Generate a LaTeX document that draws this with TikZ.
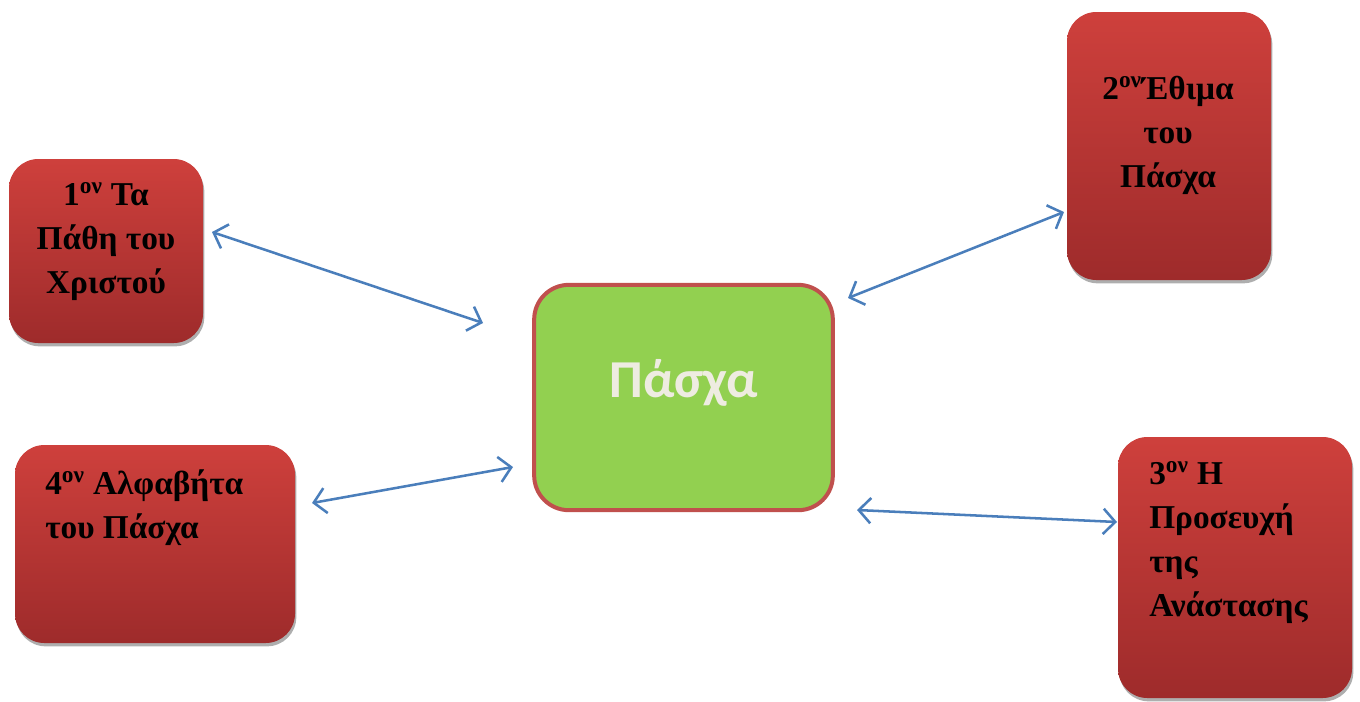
\documentclass[tikz,border=0pt]{standalone}
\usepackage{fontspec}
\setmainfont{Liberation Serif}
\newfontfamily\centerfont{Carlito}
\usetikzlibrary{arrows.meta,shadows}
\definecolor{boxtop}{RGB}{206,64,60}
\definecolor{boxbot}{RGB}{158,43,43}
\definecolor{ctrfill}{RGB}{146,208,80}
\definecolor{ctrline}{RGB}{192,80,77}
\definecolor{ctrtext}{RGB}{238,236,225}
\definecolor{arrowblue}{RGB}{74,126,187}
\tikzset{
  redbox/.style={rounded corners=22pt, top color=boxtop, bottom color=boxbot, draw=none,
    drop shadow={shadow xshift=1pt, shadow yshift=-2.5pt, fill=black!45, opacity=0.7}},
  boxtext/.style={font=\fontsize{25}{33}\selectfont\bfseries, text=black, inner sep=0pt},
  link/.style={draw=arrowblue, line width=1.9pt, {Straight Barb[length=9pt,width=19pt,line width=1.9pt]}-{Straight Barb[length=9pt,width=19pt,line width=1.9pt]}}
}
\begin{document}
\begin{tikzpicture}[x=0.75pt,y=-0.75pt]
\useasboundingbox (0,0) rectangle (1360,701);
% boxes
\path[redbox] (9,159) rectangle (203,343);
\node[inner sep=0pt, minimum width=145.5pt, minimum height=138pt] (b1) at (106,251) {};
\path[redbox] (1067,12) rectangle (1271,280);
\node[inner sep=0pt, minimum width=153pt, minimum height=201pt] (b2) at (1169,146) {};
\path[redbox] (1118,437) rectangle (1352,698);
\node[inner sep=0pt, minimum width=175.5pt, minimum height=195.75pt] (b3) at (1235,567.5) {};
\path[redbox] (15,445) rectangle (295,643);
\node[inner sep=0pt, minimum width=210pt, minimum height=148.5pt] (b4) at (155,544) {};
% center
\node[draw=ctrline, line width=3pt, fill=ctrfill, rounded corners=26pt,
      minimum width=224pt, minimum height=169pt, inner sep=0pt] (c) at (683.5,397.5) {};
\node[font=\centerfont\bfseries\fontsize{40}{48}\selectfont, text=ctrtext, inner sep=0pt] (ct) at (684,383) {Πάσχα};
% texts
\node[boxtext, align=center] (t1) at (106,242) {1\textsuperscript{ον} Τα\\Πάθη του\\Χριστού};
\node[boxtext, align=center] (t2) at (1168,135) {2\textsuperscript{ον}Έθιμα\\του\\Πάσχα};
\node[boxtext, align=left, anchor=west] (t3) at (1149,543) {3\textsuperscript{ον} Η\\Προσευχή\\της\\Ανάστασης};
\node[boxtext, align=left, anchor=west] (t4) at (45,508) {4\textsuperscript{ον} Αλφαβήτα\\του Πάσχα};
% arrow end points
\coordinate (a1s) at (212,232); \coordinate (a1e) at (483,323);
\coordinate (a2s) at (848,298); \coordinate (a2e) at (1064,212);
\coordinate (a3s) at (857,510); \coordinate (a3e) at (1117,522);
\coordinate (a4s) at (312,503); \coordinate (a4e) at (513,467);
\draw[link] (a1s) -- (a1e);
\draw[link] (a2s) -- (a2e);
\draw[link] (a3s) -- (a3e);
\draw[link] (a4s) -- (a4e);
\end{tikzpicture}
\end{document}
